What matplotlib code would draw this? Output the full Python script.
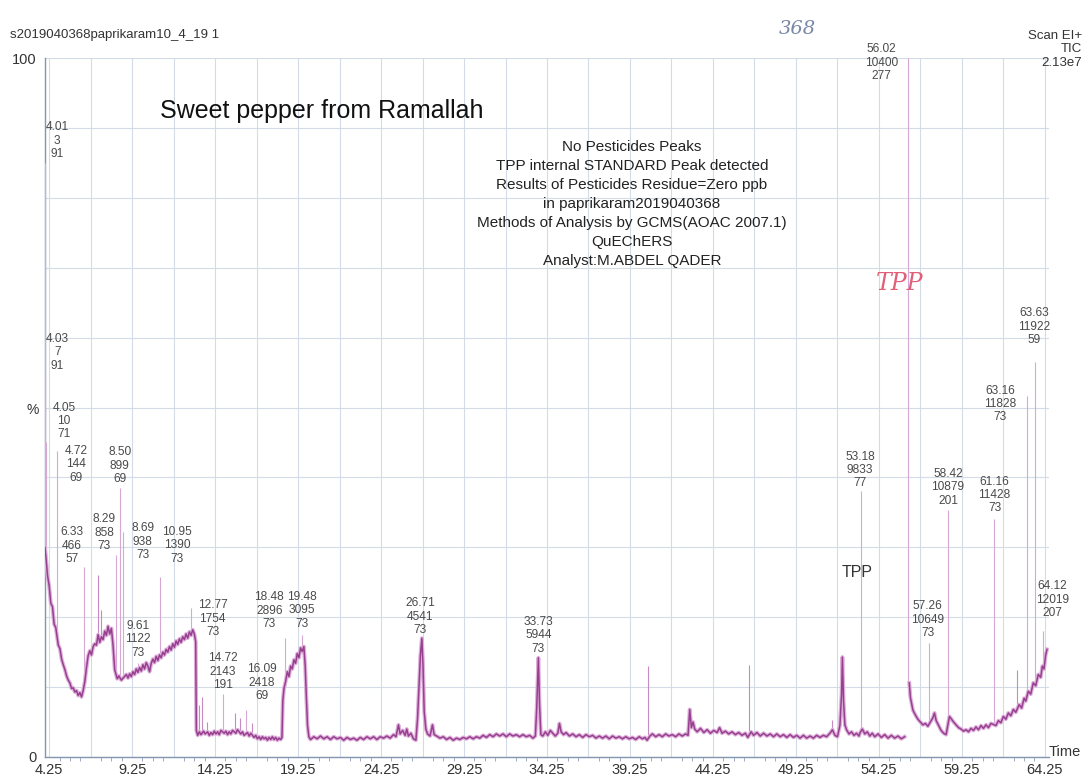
import numpy as np
import matplotlib.pyplot as plt

plt.rcParams['font.family'] = ['Liberation Sans', 'DejaVu Sans']

# TIC trace (retention time in min, intensity in %)
trace_t = [4.00, 4.08, 4.15, 4.25, 4.35, 4.45, 4.55, 4.65, 4.80, 4.90, 5.00, 5.10, 5.20, 5.30,
           5.40, 5.50, 5.60, 5.70, 5.80, 5.90, 6.00, 6.10, 6.20, 6.30, 6.40, 6.50, 6.60, 6.70,
           6.80, 6.90, 7.00, 7.10, 7.20, 7.30, 7.40, 7.50, 7.60, 7.70, 7.80, 7.90, 8.00, 8.10,
           8.20, 8.35, 8.45, 8.60, 8.75, 8.90, 9.00, 9.10, 9.20, 9.30, 9.40, 9.50, 9.60, 9.70,
           9.80, 9.90, 10.0, 10.1, 10.2, 10.3, 10.4, 10.5, 10.6, 10.7, 10.8, 10.9, 11.0, 11.1,
           11.2, 11.3, 11.4, 11.5, 11.6, 11.7, 11.8, 11.9, 12.0, 12.1, 12.2, 12.3, 12.4, 12.5,
           12.6, 12.7, 12.8, 12.9, 13.0, 13.08,
           13.12, 13.2, 13.3, 13.4, 13.55, 13.65, 13.8, 13.9, 14.0, 14.1, 14.2, 14.3, 14.4, 14.5,
           14.6, 14.8, 14.9, 15.0, 15.1, 15.2, 15.3, 15.5, 15.6, 15.8, 15.9, 16.0, 16.2, 16.3,
           16.4, 16.6, 16.7, 16.8, 16.9, 17.0, 17.1, 17.2, 17.3, 17.4, 17.5, 17.6, 17.7, 17.8,
           17.9, 18.0, 18.1, 18.2, 18.28,
           18.33, 18.4, 18.5, 18.6, 18.7, 18.8, 18.9, 19.0, 19.1, 19.2, 19.3, 19.4, 19.5, 19.6,
           19.68, 19.75, 19.82, 19.9, 20.0,
           20.2, 20.4, 20.6, 20.8, 21.0, 21.2, 21.4, 21.6, 21.8, 22.0, 22.2, 22.4, 22.6, 22.8,
           23.0, 23.2, 23.4, 23.6, 23.8, 24.0, 24.2, 24.4, 24.6, 24.8, 25.0, 25.15, 25.3, 25.4,
           25.55, 25.7, 25.8, 25.9, 26.05, 26.2, 26.35, 26.45, 26.55, 26.62, 26.71, 26.78, 26.85,
           26.95, 27.05, 27.2, 27.35, 27.45, 27.6, 27.8, 28.0, 28.2, 28.4, 28.6, 28.8, 29.0,
           29.2, 29.4, 29.6, 29.8, 30.0, 30.2, 30.4, 30.6, 30.8, 31.0, 31.2, 31.4, 31.6, 31.8,
           32.0, 32.2, 32.4, 32.6, 32.8, 33.0, 33.2, 33.4, 33.55, 33.63, 33.73, 33.8, 33.88,
           34.0, 34.15, 34.3, 34.45, 34.6, 34.75, 34.9, 35.0, 35.1, 35.25, 35.4, 35.6, 35.8,
           36.0, 36.2, 36.4, 36.6, 36.8, 37.0, 37.2, 37.4, 37.6, 37.8, 38.0, 38.2, 38.4, 38.6,
           38.8, 39.0, 39.2, 39.4, 39.6, 39.8, 40.0, 40.15, 40.28, 40.45, 40.6, 40.8, 41.0,
           41.2, 41.4, 41.6, 41.8, 42.0, 42.2, 42.4, 42.6, 42.75, 42.85, 42.95, 43.05, 43.15,
           43.3, 43.5, 43.7, 43.9, 44.1, 44.3, 44.5, 44.65, 44.8, 45.0, 45.2, 45.4, 45.6, 45.8,
           46.0, 46.2, 46.35, 46.55, 46.7, 46.9, 47.1, 47.3, 47.5, 47.7, 47.9, 48.1, 48.3, 48.5,
           48.7, 48.9, 49.1, 49.3, 49.5, 49.7, 49.9, 50.1, 50.3, 50.5, 50.7, 50.9, 51.1, 51.3,
           51.45, 51.6, 51.75, 51.9, 52.0, 52.05, 52.12, 52.2, 52.3, 52.45, 52.6, 52.75, 52.9,
           53.05, 53.12, 53.25, 53.4, 53.55, 53.7, 53.85, 54.0, 54.2, 54.4, 54.6, 54.8, 55.0,
           55.2, 55.4, 55.6, 55.8, 55.95,
           56.08, 56.15, 56.3, 56.45, 56.6, 56.75, 56.9, 57.05, 57.2, 57.35, 57.5, 57.6, 57.7,
           57.85, 58.0, 58.15, 58.3, 58.5, 58.6, 58.75, 58.9, 59.05, 59.2, 59.35, 59.5, 59.65,
           59.8, 59.95, 60.1, 60.25, 60.4, 60.55, 60.7, 60.85, 61.0, 61.3, 61.45, 61.6, 61.75,
           61.9, 62.05, 62.2, 62.35, 62.5, 62.7, 62.85, 63.0, 63.1, 63.25, 63.4, 63.55, 63.7,
           63.85, 64.0, 64.1, 64.2, 64.3, 64.38]
trace_y = [30.0, 28.0, 26.0, 24.5, 22.0, 21.5, 19.0, 18.5, 16.0, 15.5, 14.0, 13.2, 12.5, 11.6,
           11.0, 10.6, 9.8, 9.9, 9.3, 9.5, 8.8, 9.2, 8.6, 9.5, 10.8, 12.8, 14.5, 15.2,
           14.6, 15.8, 16.2, 16.0, 17.5, 16.4, 17.2, 16.8, 18.0, 17.4, 18.7, 17.6, 18.4, 16.0,
           12.5, 11.2, 11.6, 11.0, 11.4, 11.8, 11.3, 11.9, 11.5, 12.2, 11.8, 12.6, 12.1, 12.8,
           12.3, 13.2, 12.6, 13.5, 13.0, 12.2, 13.4, 14.0, 13.5, 14.4, 13.8, 14.6, 14.2, 15.0,
           14.6, 15.4, 15.0, 15.8, 15.3, 16.2, 15.7, 16.6, 16.1, 16.9, 16.4, 17.2, 16.8, 17.6,
           17.0, 17.9, 17.4, 18.2, 17.6, 16.5,
           3.8, 3.1, 3.6, 3.2, 3.7, 3.3, 3.6, 3.1, 3.5, 3.2, 3.7, 3.3, 3.6, 3.2,
           3.8, 3.4, 3.7, 3.2, 3.6, 3.3, 3.8, 3.4, 3.9, 3.3, 3.6, 3.1, 3.5, 3.0,
           3.4, 2.8, 3.1, 2.6, 2.9, 2.5, 2.9, 2.6, 2.8, 2.4, 2.8, 2.5, 2.9, 2.5,
           2.8, 2.4, 2.7, 2.5, 2.8,
           8.0, 9.8, 10.8, 12.2, 11.5, 13.0, 12.6, 13.9, 13.4, 14.8, 14.2, 15.6, 15.1, 15.8,
           13.0, 8.5, 4.5, 2.9, 2.5,
           2.9, 2.6, 3.0, 2.6, 2.9, 2.5, 2.9, 2.6, 2.8, 2.4, 2.8, 2.5, 2.7, 2.4,
           2.8, 2.5, 2.9, 2.6, 2.9, 2.5, 2.9, 2.7, 3.0, 2.7, 3.2, 2.9, 4.6, 3.3,
           3.8, 3.1, 4.0, 3.0, 3.4, 2.6, 2.4, 5.5, 11.0, 14.5, 17.0, 13.0, 6.5,
           4.0, 3.3, 3.0, 4.6, 3.2, 3.0, 2.7, 2.9, 2.5, 2.8, 2.4, 2.7, 2.5,
           2.8, 2.6, 2.9, 2.6, 2.9, 2.7, 3.1, 2.8, 3.2, 2.9, 3.3, 3.0, 3.3, 2.9,
           3.3, 3.0, 3.2, 2.9, 3.2, 2.9, 3.1, 2.7, 3.0, 7.0, 14.2, 7.5, 3.2,
           3.0, 3.6, 3.1, 3.8, 3.4, 3.0, 3.4, 4.8, 3.6, 3.2, 3.5, 3.0, 3.3,
           2.9, 3.2, 2.8, 3.2, 2.9, 3.1, 2.7, 3.0, 2.7, 3.0, 2.6, 3.0, 2.7, 2.9,
           2.6, 2.9, 2.6, 2.8, 2.5, 2.9, 2.6, 2.8, 2.4, 3.0, 3.3, 2.9, 3.2,
           2.9, 3.3, 3.0, 3.2, 2.9, 3.3, 3.0, 3.3, 3.1, 6.8, 4.2, 5.0, 4.0,
           3.6, 4.1, 3.5, 3.9, 3.4, 3.8, 3.5, 4.2, 3.4, 3.7, 3.3, 3.6, 3.2, 3.5,
           3.1, 3.4, 2.8, 3.6, 3.1, 3.5, 3.0, 3.4, 3.0, 3.3, 2.9, 3.3, 2.9, 3.2,
           2.8, 3.2, 2.8, 3.1, 2.7, 3.1, 2.7, 3.0, 2.7, 3.1, 2.8, 3.1, 2.9, 3.4,
           3.9, 3.1, 2.9, 4.5, 9.0, 14.3, 8.0, 4.6, 3.9, 3.3, 3.6, 3.1, 3.4,
           3.0, 3.5, 4.0, 3.3, 3.6, 3.0, 3.4, 2.9, 3.3, 2.8, 3.2, 2.7, 3.1,
           2.7, 3.0, 2.6, 2.9, np.nan,
           10.6, 8.5, 6.7, 6.0, 5.4, 5.0, 4.6, 4.8, 4.4, 5.0, 5.6, 6.3, 5.2,
           4.5, 3.8, 3.4, 3.2, 5.8, 5.5, 5.0, 4.6, 4.2, 4.0, 3.7, 3.9, 3.6,
           4.1, 3.8, 4.3, 3.9, 4.5, 4.1, 4.6, 4.2, 4.8, 4.5, 5.2, 4.9, 5.8,
           5.4, 6.3, 5.9, 6.8, 6.4, 7.5, 7.0, 8.4, 8.0, 9.4, 9.0, 10.6, 10.2,
           11.8, 11.4, 13.0, 12.6, 14.6, 15.4]

# labelled peaks: retention time, scan number, base mass, height %
peak_rt = [4.01, 4.03, 4.05, 4.72, 6.33, 8.29, 8.50, 8.69, 9.61, 10.95, 12.77, 14.72, 16.09,
           18.48, 19.48, 26.71, 33.73, 53.18, 56.02, 57.26, 58.42, 61.16, 63.16, 63.63, 64.12]
peak_scan = [3, 7, 10, 144, 466, 858, 899, 938, 1122, 1390, 1754, 2143, 2418,
             2896, 3095, 4541, 5944, 9833, 10400, 10649, 10879, 11428, 11828, 11922, 12019]
peak_mass = [91, 91, 71, 69, 57, 73, 69, 73, 73, 73, 73, 191, 69,
             73, 73, 73, 73, 77, 277, 73, 201, 73, 73, 59, 207]
peak_h = [85, 55, 45, 43.8, 27.2, 28.9, 38.5, 32.2, 13.5, 25.8, 21.3, 9.0, 6.7,
          17.0, 17.5, 17.0, 14.2, 38.0, 100, 16.3, 35.4, 34.0, 51.6, 56.5, 18.0]

# unlabelled spikes
spike_rt = [7.20, 7.35, 13.30, 13.45, 13.75, 15.45, 15.75, 16.50, 40.35, 46.45, 51.45, 62.60]
spike_h = [26.0, 21.0, 7.5, 8.6, 5.0, 6.3, 5.6, 4.9, 13.0, 13.2, 5.3, 12.5]

# label offsets from apex in pixels (dx, dy to label bottom)
label_off = [(12, 3), (12, 1), (18, 2), (19, -33), (-12, 2), (-12, 3), (0, 3), (20, -29),
             (0, 4), (17, 12), (22, -30), (0, 3), (16, 8), (-16, 8), (0, 5), (-2, 2),
             (0, 3), (-1, 2), (-27, -24), (-1, 4), (0, 3), (1, 5), (-27, -27), (0, 16),
             (10, 12)]

note_lines = ["No Pesticides Peaks",
              "TPP internal STANDARD Peak detected",
              "Results of Pesticides Residue=Zero ppb",
              "in paprikaram2019040368",
              "Methods of Analysis by GCMS(AOAC 2007.1)",
              "QuEChERS",
              "Analyst:M.ABDEL QADER"]

W, H = 1089, 781
fig = plt.figure(figsize=(W / 100, H / 100), dpi=100)
ax = fig.add_axes([45 / W, 1 - 757 / H, 1004 / W, (757 - 58) / H])
ax.set_xlim(4.0, 64.5)
ax.set_ylim(0, 100)

grid_c = '#d3dbe6'
ax.set_yticks(np.arange(0, 101, 10))
ax.set_yticklabels(['0'] + [''] * 9 + ['100'], fontsize=10.5, color='#333333')
ax.tick_params(axis='y', length=0, pad=6)
xt = np.arange(4.25, 64.3, 2.5)
ax.set_xticks(xt)
ax.set_xticklabels([f"{v:.2f}" if i % 2 == 0 else "" for i, v in enumerate(xt)],
                   fontsize=10.5, color='#333333')
ax.set_xticks(np.arange(4.25, 64.5, 0.625), minor=True)
ax.tick_params(axis='x', which='major', length=0, pad=4)
ax.tick_params(axis='x', which='minor', length=3, color='#8da0b8')
ax.grid(True, which='major', color=grid_c, lw=0.8)
for s in ['top', 'right']:
    ax.spines[s].set_visible(False)
for s in ['left', 'bottom']:
    ax.spines[s].set_color('#8396b0')
    ax.spines[s].set_linewidth(1.0)

t = np.array(trace_t)
y = np.array(trace_y)
ok = ~np.isnan(y)

# spikes
base = np.interp(spike_rt, t[ok], y[ok])
ax.vlines(spike_rt, base, spike_h, color='#c78ac4', lw=0.8, zorder=3)
pbase = np.interp(peak_rt, t[ok], y[ok])
ax.vlines(peak_rt, pbase, peak_h, color='#d7a8d4', lw=0.8, zorder=3)

ax.plot(t, y, color='#deb0db', lw=2.8, zorder=4, solid_joinstyle='round')
ax.plot(t, y, color='#97408f', lw=1.1, zorder=5)

for rt, sc, ms, h, (dx, dy) in zip(peak_rt, peak_scan, peak_mass, peak_h, label_off):
    ax.annotate(f"{rt:.2f}\n{sc}\n{ms}", xy=(rt, h), xytext=(dx * 0.72, dy * 0.72),
                textcoords='offset points', ha='center', va='bottom',
                multialignment='center', fontsize=8.6, color='#4a4a4a',
                linespacing=1.15, zorder=6)

ax.annotate("TPP", xy=(53.18, 38.0), xytext=(-4 * 0.72, -81 * 0.72),
            textcoords='offset points', ha='center', va='center',
            fontsize=11.5, color='#333333')

# header / annotation texts
fig.text(10 / W, 1 - 35 / H, "s2019040368paprikaram10_4_19 1", fontsize=9.5,
         color='#333333', ha='left', va='center')
fig.text(1082 / W, 1 - 30 / H, "Scan EI+\nTIC\n2.13e7", fontsize=9.5, color='#333333',
         ha='right', va='top', multialignment='right', linespacing=1.15)
fig.text(33 / W, 1 - 410 / H, "%", fontsize=10, color='#333333', ha='center', va='center')
fig.text(1065 / W, 1 - 752 / H, "Time", fontsize=10.5, color='#333333',
         ha='center', va='center')
fig.text(160 / W, 1 - 111 / H, "Sweet pepper from Ramallah", fontsize=18,
         color='#111111', ha='left', va='center')
for i, line in enumerate(note_lines):
    fig.text(632 / W, 1 - (147 + 19 * i) / H, line, fontsize=11, color='#222222',
             ha='center', va='center')

# handwritten notes
fig.text(797 / W, 1 - 29 / H, "368", fontsize=14, color='#7a88a8', style='italic',
         ha='center', va='center', family=['DejaVu Serif'])
fig.text(900 / W, 1 - 283 / H, "TPP", fontsize=17, color='#e0607a', style='italic',
         ha='center', va='center', family=['DejaVu Serif'])

fig.savefig('out.png', dpi=100)
